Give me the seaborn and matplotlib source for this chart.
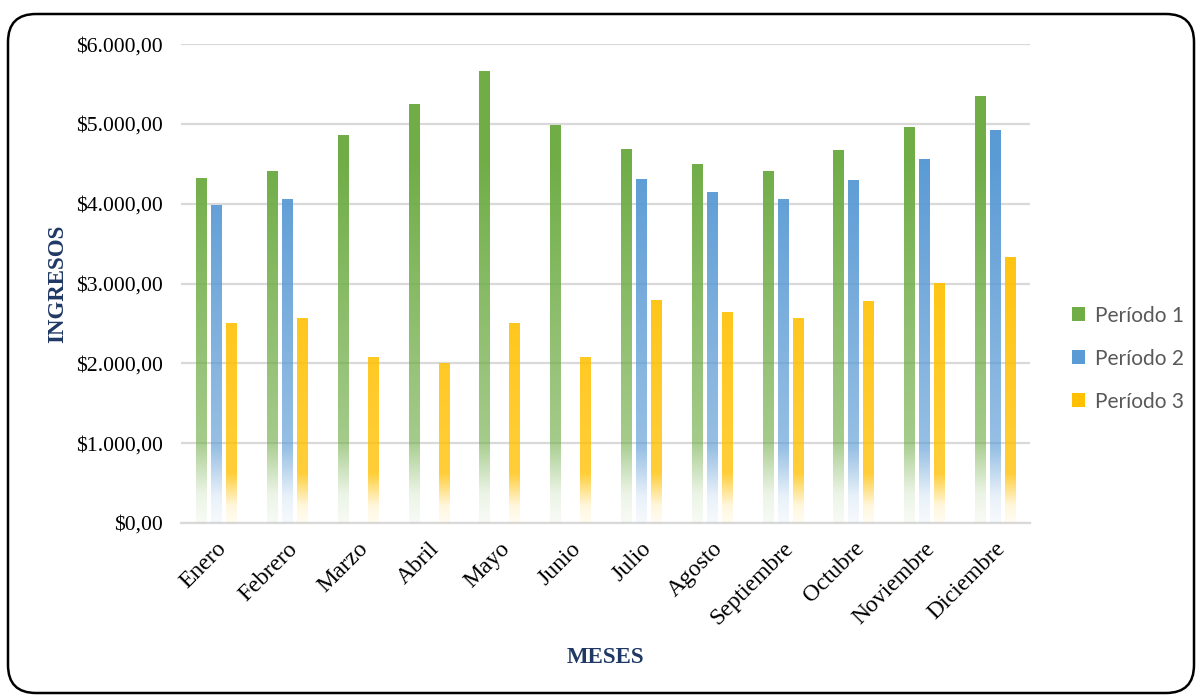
import numpy as np
import pandas as pd
import matplotlib
matplotlib.use("Agg")
import matplotlib.pyplot as plt
import seaborn as sns
from matplotlib.colors import to_rgb
from matplotlib.patches import FancyBboxPatch, Patch
from matplotlib.ticker import FuncFormatter, MultipleLocator

# datos
meses = ["Enero", "Febrero", "Marzo", "Abril", "Mayo", "Junio", "Julio",
         "Agosto", "Septiembre", "Octubre", "Noviembre", "Diciembre"]
periodo_1 = [4320, 4410, 4860, 5250, 5660, 4990, 4685, 4495, 4410, 4670, 4960, 5350]
periodo_2 = [3985, 4060, np.nan, np.nan, np.nan, np.nan, 4310, 4145, 4060, 4295, 4560, 4925]
periodo_3 = [2505, 2570, 2080, 2005, 2505, 2080, 2795, 2645, 2570, 2780, 3005, 3330]
series = ["Período 1", "Período 2", "Período 3"]
colores = ["#70AD47", "#5B9BD5", "#FFC000"]

# degradado: (valor donde empieza a desvanecer, opacidad en ese punto)
degradado = [(1050, 0.64), (950, 0.64), (620, 0.78)]


def formato_pesos(v, pos):
    s = f"{v:,.2f}"
    s = s.replace(",", "X").replace(".", ",").replace("X", ".")
    return "$" + s


df = pd.DataFrame({
    "mes": meses * 3,
    "ingresos": periodo_1 + periodo_2 + periodo_3,
    "periodo": [s for s in series for _ in meses],
})

sns.set_style("white")
plt.rcParams["font.family"] = ["Liberation Serif", "DejaVu Serif"]

fig = plt.figure(figsize=(11.98, 6.95), dpi=100)
ax = fig.add_axes([0.151, 0.2475, 0.709, 0.689])

sns.barplot(data=df, x="mes", y="ingresos", hue="periodo", order=meses,
            hue_order=series, palette=colores, width=0.636, gap=0.333,
            errorbar=None, legend=False, ax=ax, zorder=3)

# relleno con degradado para cada barra (la serie se reconoce por su color)
rgb_series = [np.array(to_rgb(c)) for c in colores]
for p in list(ax.patches):
    h = p.get_height()
    if not np.isfinite(h) or h <= 0:
        continue
    fc = np.array(p.get_facecolor()[:3])
    k = int(np.argmin([np.abs(fc - c).sum() for c in rgb_series]))
    knee, a_knee = degradado[k]
    v = np.linspace(h, 0, 300)
    alpha = np.interp(v, [0, 0.35 * knee, knee, 4500], [0.05, 0.14, a_knee, 1.0])
    img = np.zeros((300, 1, 4))
    img[:, 0, :3] = rgb_series[k]
    img[:, 0, 3] = alpha
    x0 = p.get_x()
    im = ax.imshow(img, extent=[x0, x0 + p.get_width(), 0, h], aspect="auto",
                   interpolation="bilinear", zorder=3)
    im.set_clip_path(p)
    p.set_facecolor("none")
    p.set_edgecolor("none")

n = len(meses)
ax.set_xlim(-0.5, n - 0.5)
ax.set_ylim(0, 6000)
ax.yaxis.set_major_locator(MultipleLocator(1000))
ax.yaxis.set_major_formatter(FuncFormatter(formato_pesos))
ax.grid(axis="y", color="#D9D9D9", linewidth=1.6, zorder=0)
ax.set_axisbelow(True)
for lado in ["top", "right", "left"]:
    ax.spines[lado].set_visible(False)
ax.spines["bottom"].set_color("#D9D9D9")
ax.spines["bottom"].set_linewidth(1.6)
ax.tick_params(axis="both", length=0, colors="black")
ax.tick_params(axis="y", labelsize=15.7, pad=13)
ax.tick_params(axis="x", labelsize=17, pad=11)
plt.setp(ax.get_xticklabels(), rotation=45, ha="right", va="top",
         rotation_mode="anchor")

ax.set_xlabel("MESES", fontsize=16.5, fontweight="bold", color="#1F3864")
ax.set_ylabel("INGRESOS", fontsize=16.5, fontweight="bold", color="#1F3864")
ax.xaxis.set_label_coords(0.5, -0.26)
ax.yaxis.set_label_coords(-0.133, 0.5)

handles = [Patch(facecolor=c, edgecolor="none") for c in colores]
leg = fig.legend(handles, series, loc="center left",
                 bbox_to_anchor=(0.879, 0.484), frameon=False,
                 prop={"family": ["Lato", "DejaVu Sans"], "size": 15},
                 labelcolor="#595959", handlelength=0.65, handleheight=0.65,
                 handletextpad=0.45, labelspacing=1.1)

# marco redondeado de la figura
marco = FancyBboxPatch((0.08, 0.02), 11.86, 6.79,
                       boxstyle="round,pad=0,rounding_size=0.28",
                       transform=fig.dpi_scale_trans, facecolor="none",
                       edgecolor="black", linewidth=1.8, zorder=10)
fig.patches.append(marco)

fig.savefig("out.png", dpi=100)
